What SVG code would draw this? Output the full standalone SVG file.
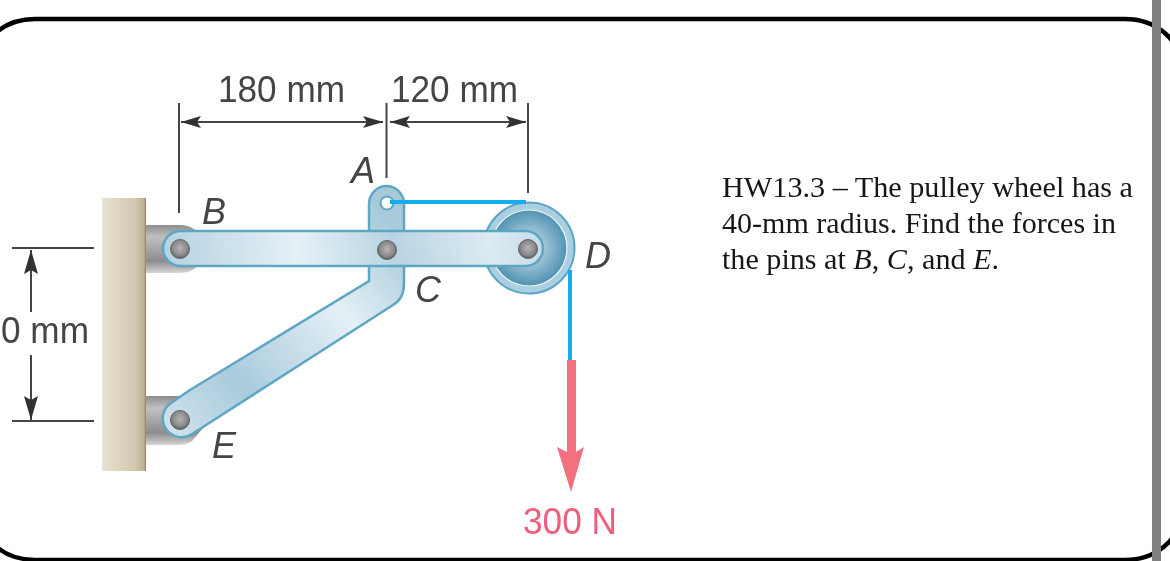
<svg xmlns="http://www.w3.org/2000/svg" width="1170" height="561" viewBox="0 0 1170 561">
<defs>
<filter id="soft" x="-5%" y="-5%" width="110%" height="110%"><feGaussianBlur stdDeviation="0.6"/></filter>
<linearGradient id="wall" x1="0" x2="1" y1="0" y2="0"><stop offset="0" stop-color="#e8e2d2"/><stop offset="0.75" stop-color="#d3c8b0"/><stop offset="0.95" stop-color="#bfb295"/><stop offset="1" stop-color="#8f8468"/></linearGradient>
<linearGradient id="bar" gradientUnits="userSpaceOnUse" x1="165" y1="270" x2="545" y2="225"><stop offset="0" stop-color="#b4d2e1"/><stop offset="0.35" stop-color="#e6f1f7"/><stop offset="0.6" stop-color="#b8d4e2"/><stop offset="0.85" stop-color="#dceaf2"/><stop offset="1" stop-color="#c4dce8"/></linearGradient>
<linearGradient id="link" gradientUnits="userSpaceOnUse" x1="165" y1="440" x2="405" y2="240"><stop offset="0" stop-color="#d3e5ee"/><stop offset="0.3" stop-color="#a9cbdc"/><stop offset="0.7" stop-color="#e4f0f6"/><stop offset="1" stop-color="#a7cadb"/></linearGradient>
<linearGradient id="bracket" x1="0" x2="0" y1="0" y2="1"><stop offset="0" stop-color="#8d8d8d"/><stop offset="0.25" stop-color="#c0c0c0"/><stop offset="0.75" stop-color="#8c8c8c"/><stop offset="1" stop-color="#d5d5d5"/></linearGradient>
<radialGradient id="pin" cx="0.5" cy="0.45" r="0.55"><stop offset="0" stop-color="#b5b5b5"/><stop offset="0.7" stop-color="#8a8a8a"/><stop offset="1" stop-color="#5c5c5c"/></radialGradient>
<radialGradient id="wheel"><stop offset="0.2" stop-color="#b9d6e4"/><stop offset="0.6" stop-color="#86b4ca"/><stop offset="1" stop-color="#4f93b2"/></radialGradient>
<marker id="head" viewBox="0 0 20 12" refX="20" refY="6" markerWidth="20" markerHeight="12" markerUnits="userSpaceOnUse" orient="auto-start-reverse"><path d="M0 0 L20 6 L0 12 L4 6 Z" fill="#333"/></marker>
<marker id="headv" viewBox="0 0 24 14" refX="24" refY="7" markerWidth="24" markerHeight="14" markerUnits="userSpaceOnUse" orient="auto-start-reverse"><path d="M0 0 L24 7 L0 14 L4 7 Z" fill="#333"/></marker>
</defs>
<style>
.dim{stroke:#444;stroke-width:2;fill:none}
.arrow{marker-end:url(#head)}
.arrowv{marker-end:url(#headv)}
.part{stroke:#5ea6c4;stroke-width:2.5}
.pin{fill:url(#pin);stroke:#666;stroke-width:1}
.lab{font-family:"Liberation Sans",Arial,sans-serif;font-size:37px;fill:#444}
.it{font-style:italic;font-size:36px}
.hw{font-family:"Liberation Serif","Times New Roman",serif;font-size:29px;fill:#161616}
.rope{stroke:#17aeea;stroke-width:4;fill:none}
</style>
<rect width="1170" height="561" fill="#fff"/>
<g filter="url(#soft)">
<path id="frame" d="M-20 64 A55 45 0 0 1 35 19 H1125 A55 45 0 0 1 1180 64 V515 A55 45 0 0 1 1125 560 H35 A55 45 0 0 1 -20 515 Z" fill="none" stroke="#000" stroke-width="4.5"/>
<g id="wall-support"><rect x="102" y="198" width="44" height="273" fill="url(#wall)"/></g>
<g id="bracket-b"><path d="M146 225 H180 Q192 225 198 233 V265 Q192 273 180 273 H146 Z" fill="url(#bracket)"/></g>
<g id="bracket-e"><path d="M146 396 H190 L204 427 L192 441 Q186 445 178 445 H146 Z" fill="url(#bracket)"/></g>
<g id="pulley-d">
<circle cx="529" cy="248" r="45.5" fill="#a9cfe0" stroke="#5ea6c4" stroke-width="2"/>
<circle cx="529" cy="248" r="38" fill="url(#wheel)" stroke="#eef6fa" stroke-width="1.2"/>
</g>
<g id="member-ace">
<path class="part" fill="url(#link)" d="M369 204 A17.5 18 0 0 1 404 204 V283 Q404 299 393 305 L192 434 A18 18 0 0 1 171 403 L190 390 L369 281 Z"/>
<circle cx="387" cy="203" r="6.5" fill="#fff" stroke="#5ea6c4" stroke-width="2"/>
</g>
<g id="member-bd">
<rect class="part" x="163" y="231" width="380" height="35" rx="17.5" fill="url(#bar)"/>
</g>
<g id="pins">
<circle class="pin" cx="180" cy="249" r="9.5"/>
<circle class="pin" cx="180" cy="420" r="9.5"/>
<circle class="pin" cx="387" cy="250" r="9.5"/>
<circle class="pin" cx="528" cy="249" r="9.5"/>
</g>
<g id="connectors">
<path class="rope" d="M390 202 H526 M570 270 V360"/>
<path d="M567 360 H576 V452 L584 447 L571 492 L557 447 L567 452 Z" fill="#f2707f"/>
<path class="dim" d="M179 103 V213 M386.500 103 V178 M528 103 V193 M12 248 H94 M12 421 H94"/>
<path class="dim arrow" d="M282 122 H181"/>
<path class="dim arrow" d="M282 122 H383"/>
<path class="dim arrow" d="M458 122 H390"/>
<path class="dim arrow" d="M458 122 H526"/>
<path class="dim arrowv" d="M31 312 V250"/>
<path class="dim arrowv" d="M31 355 V420"/>
</g>
<g id="labels">
<text class="lab" x="218" y="101.500" textLength="127" lengthAdjust="spacingAndGlyphs">180 mm</text>
<text class="lab" x="391" y="101.500" textLength="127" lengthAdjust="spacingAndGlyphs">120 mm</text>
<text class="lab" x="1" y="342.500" textLength="88" lengthAdjust="spacingAndGlyphs">0 mm</text>
<text class="lab it" x="351" y="183">A</text>
<text class="lab it" x="202" y="224">B</text>
<text class="lab it" x="415" y="302">C</text>
<text class="lab it" x="585" y="268">D</text>
<text class="lab it" x="212" y="458">E</text>
<text class="lab" x="523" y="533.500" textLength="94" lengthAdjust="spacingAndGlyphs" style="fill:#ee5f7d">300 N</text>
<text class="hw" x="722" y="197" textLength="411" lengthAdjust="spacingAndGlyphs">HW13.3 – The pulley wheel has a</text>
<text class="hw" x="722" y="233" textLength="394" lengthAdjust="spacingAndGlyphs">40-mm radius. Find the forces in</text>
<text class="hw" x="722" y="268.500" textLength="277" lengthAdjust="spacingAndGlyphs">the pins at <tspan font-style="italic">B</tspan>, <tspan font-style="italic">C</tspan>, and <tspan font-style="italic">E</tspan>.</text>
</g>
</g>
<rect x="1152" y="0" width="9" height="561" fill="#808080"/>
</svg>
